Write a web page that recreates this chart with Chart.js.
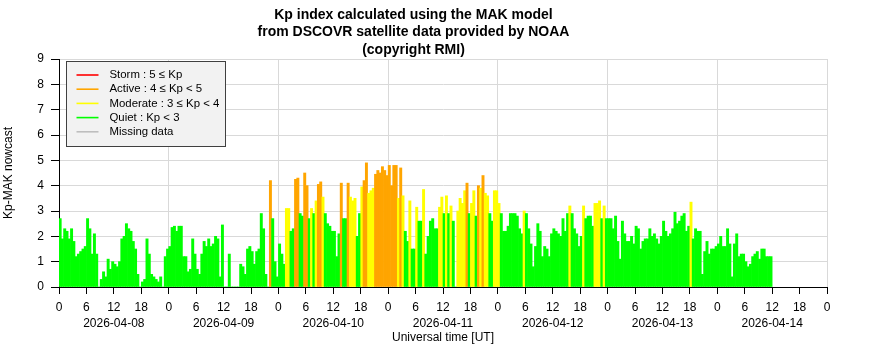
<!DOCTYPE html>
<html>
<head>
<meta charset="utf-8">
<script src="https://cdn.jsdelivr.net/npm/chart.js@4/dist/chart.umd.min.js"></script>
<style>
  html, body { margin: 0; padding: 0; background: #fff; }
</style>
</head>
<body>
<canvas id="kp-chart" width="886" height="360"></canvas>
<script>
// 30-minute Kp-MAK nowcast values, one array per UT day
const DAYS = ['2026-04-08', '2026-04-09', '2026-04-10', '2026-04-11', '2026-04-12', '2026-04-13', '2026-04-14'];
const STEP_H = 0.5;

const kpApr08 = [2.7, 1.9, 2.3, 2.2, 1.9, 2.3, 1.8, 1.2, 1.3, 1.4, 1.5, 1.6, 2.7, 2.3, 1.3, 2.1, 1.3, 0.0, 0.3, 0.6, 0.4, 1.1, 0.7, 1.0,
                 0.9, 0.8, 1.0, 1.9, 2.0, 2.5, 2.3, 2.2, 1.8, 1.5, 0.5, 0.0, 0.2, 0.3, 1.9, 1.3, 0.5, 0.4, 0.3, 0.2, 0.4, 0.0, 1.2, 1.5];
const kpApr09 = [1.6, 2.35, 2.4, 2.2, 2.4, 2.4, 1.2, 1.2, 0.6, 0.7, 1.9, 1.3, 0.7, 0.5, 1.3, 1.8, 1.6, 1.9, 1.6, 1.7, 2.0, 1.9, 0.4, 2.45,
                 0.0, 0.0, 1.3, 0.0, 0.0, 0.0, 0.0, 0.9, 0.8, 0.5, 1.5, 1.6, 1.4, 0.9, 1.4, 1.5, 2.9, 2.3, 0.5, 0.0, 4.2, 2.7, 1.0, 0.4];
const kpApr10 = [1.7, 1.3, 0.9, 3.1, 3.1, 2.2, 2.3, 4.25, 4.3, 2.9, 2.8, 4.5, 4.0, 2.7, 3.1, 2.9, 3.4, 4.05, 4.15, 3.55, 2.9, 2.5, 2.4, 2.2,
                 2.2, 1.2, 2.1, 4.1, 2.7, 2.7, 4.1, 3.55, 3.4, 3.5, 2.0, 2.9, 3.95, 4.2, 4.9, 3.7, 3.8, 3.9, 4.45, 4.6, 4.5, 4.75, 4.6, 4.4];
const kpApr11 = [4.8, 4.0, 4.8, 4.8, 3.5, 4.7, 3.6, 2.2, 1.8, 3.4, 1.5, 1.5, 3.15, 2.6, 2.6, 3.85, 1.3, 2.0, 2.6, 2.7, 2.3, 2.3, 3.15, 3.55,
                 2.9, 3.6, 2.9, 3.2, 2.6, 0.0, 3.0, 3.5, 3.3, 3.8, 4.1, 2.9, 3.3, 3.8, 2.8, 4.0, 3.9, 4.4, 3.7, 3.6, 2.9, 2.6, 3.8, 3.8];
const kpApr12 = [3.3, 2.9, 2.2, 2.2, 2.4, 2.9, 2.9, 2.9, 2.8, 2.3, 2.1, 3.0, 2.9, 2.3, 1.7, 0.8, 1.6, 2.5, 2.2, 1.2, 1.6, 1.5, 1.2, 2.1,
                 2.3, 2.2, 2.1, 2.0, 2.7, 2.2, 2.9, 3.2, 2.9, 2.3, 2.1, 1.6, 2.0, 3.2, 2.7, 2.8, 2.8, 2.4, 3.3, 3.3, 3.4, 2.7, 3.2, 2.7];
const kpApr13 = [2.7, 2.7, 2.3, 2.8, 1.8, 1.1, 2.6, 2.1, 1.8, 1.8, 2.0, 1.7, 2.4, 2.3, 1.5, 1.8, 1.9, 1.9, 2.3, 2.0, 2.1, 1.9, 1.7, 2.0,
                 2.6, 2.2, 2.0, 2.1, 2.3, 2.95, 2.5, 2.6, 2.8, 2.9, 2.2, 2.4, 3.35, 1.9, 2.3, 2.2, 2.2, 0.5, 1.4, 1.8, 1.3, 1.5, 1.5, 1.6];
const kpApr14 = [1.7, 2.0, 1.6, 1.6, 2.3, 1.7, 0.4, 1.7, 2.1, 1.2, 1.3, 1.3, 1.0, 0.8, 0.9, 1.2, 1.3, 1.4, 1.1, 1.5, 1.5, 1.2, 1.2, 1.2];

const TITLE_LINES = ['Kp index calculated using the MAK model', 'from DSCOVR satellite data provided by NOAA', '(copyright RMI)'];
const LEGEND_LABELS = ['Storm : 5 \u2264 Kp', 'Active : 4 \u2264 Kp < 5', 'Moderate : 3 \u2264 Kp < 4', 'Quiet : Kp < 3', 'Missing data'];
const LEGEND_COLORS = ['#ff0000', '#ffa500', '#ffff00', '#00ff00', '#bebebe'];

const FONT = "'Liberation Sans', Arial, Helvetica, sans-serif";
const GRID = '#d9d9d9';

const kpAll = [].concat(kpApr08, kpApr09, kpApr10, kpApr11, kpApr12, kpApr13, kpApr14);

function kpColor(v) {
  if (v >= 5) return LEGEND_COLORS[0];
  if (v >= 4) return LEGEND_COLORS[1];
  if (v >= 3) return LEGEND_COLORS[2];
  return LEGEND_COLORS[3];
}

// legend drawn as a boxed key inside the plot, top-left
const kpLegend = {
  id: 'kpLegend',
  afterDatasetsDraw(chart) {
    const ctx = chart.ctx;
    const a = chart.chartArea;
    const bx = Math.round(a.left) + 7.5, by = Math.round(a.top) + 2.5;
    ctx.save();
    ctx.fillStyle = '#f2f2f2';
    ctx.strokeStyle = '#404040';
    ctx.lineWidth = 1;
    ctx.fillRect(bx, by, 159, 85);
    ctx.strokeRect(bx, by, 159, 85);
    ctx.font = '11.4px ' + FONT;
    ctx.textBaseline = 'middle';
    ctx.textAlign = 'left';
    LEGEND_LABELS.forEach((lab, i) => {
      const y = by + 13.5 + i * 14.2;
      ctx.strokeStyle = LEGEND_COLORS[i];
      ctx.lineWidth = 1.6;
      ctx.beginPath();
      ctx.moveTo(bx + 10, y);
      ctx.lineTo(bx + 32, y);
      ctx.stroke();
      ctx.fillStyle = '#000';
      ctx.fillText(lab, bx + 43, y);
    });
    ctx.restore();
  }
};

new Chart(document.getElementById('kp-chart'), {
  type: 'bar',
  data: {
    datasets: [{
      data: kpAll.map((v, i) => ({ x: i * STEP_H + STEP_H / 2, y: v })),
      backgroundColor: kpAll.map(kpColor),
      borderWidth: 0,
      barPercentage: 1,
      categoryPercentage: 1,
      xAxisID: 'x',
    }],
  },
  options: {
    responsive: false,
    animation: false,
    devicePixelRatio: 1,
    layout: { padding: { left: 0, right: 59, top: 0, bottom: 0 } },
    plugins: {
      legend: { display: false },
      tooltip: { enabled: false },
      title: {
        display: true,
        text: TITLE_LINES,
        color: '#000',
        font: { family: FONT, size: 14, weight: 'bold', lineHeight: 1.25 },
        padding: { top: 6, bottom: 0.5 },
      },
    },
    scales: {
      x: {
        type: 'linear',
        position: 'bottom',
        offset: false,
        min: 0,
        max: DAYS.length * 24,
        ticks: {
          stepSize: 6,
          autoSkip: false,
          maxRotation: 0,
          color: '#000',
          padding: 6,
          font: { family: FONT, size: 12 },
          callback: v => String(v % 24),
        },
        grid: {
          offset: false,
          color: c => (c.tick && c.tick.value % 24 === 0 ? GRID : 'rgba(0,0,0,0)'),
          tickColor: '#000',
          tickLength: 7,
        },
        border: { color: '#000' },
        afterFit: s => { s.height = 28; },
      },
      x2: {
        type: 'linear',
        position: 'bottom',
        offset: false,
        min: 0,
        max: DAYS.length * 24,
        grid: { display: false, drawTicks: false, offset: false },
        border: { display: false },
        afterBuildTicks: s => { s.ticks = DAYS.map((d, i) => ({ value: 12 + 24 * i })); },
        ticks: {
          autoSkip: false,
          maxRotation: 0,
          color: '#000',
          padding: 1,
          font: { family: FONT, size: 12 },
          callback: (v, i) => DAYS[i],
        },
        title: {
          display: true,
          text: 'Universal time [UT]',
          color: '#000',
          font: { family: FONT, size: 12 },
          padding: { top: 0, bottom: 15 },
        },
        afterFit: s => { s.height = 45; },
      },
      y: {
        min: 0,
        max: 9,
        ticks: {
          stepSize: 1,
          color: '#000',
          padding: 7,
          font: { family: FONT, size: 12 },
        },
        grid: { color: GRID, tickColor: '#000', tickLength: 8 },
        border: { color: '#000' },
        title: {
          display: true,
          text: 'Kp-MAK nowcast',
          color: '#000',
          font: { family: FONT, size: 12 },
          padding: { top: 1, bottom: 0 },
        },
        afterFit: s => { s.width = 59; },
      },
    },
  },
  plugins: [kpLegend],
});
</script>
</body>
</html>
